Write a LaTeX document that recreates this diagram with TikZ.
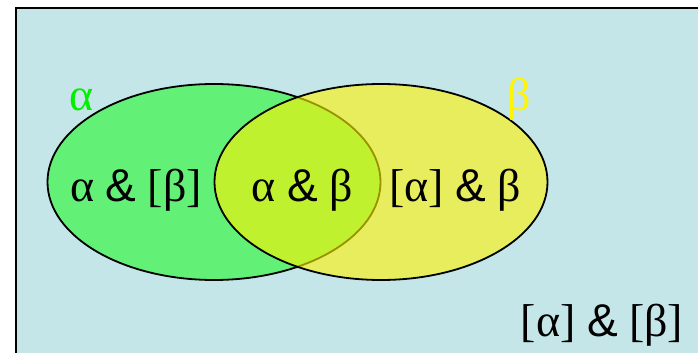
\documentclass[tikz,border=0pt]{standalone}
\usepackage{fontspec}
\setmainfont{Liberation Serif}
\newfontfamily\ampfont{Liberation Sans}
\usepackage{xcolor}
\usetikzlibrary{shapes.geometric}
\definecolor{universe}{RGB}{197,230,232}
\definecolor{setgreen}{RGB}{98,240,118}
\definecolor{labgreen}{RGB}{0,240,0}
\definecolor{labyellow}{RGB}{255,245,0}
\newcommand{\amp}{{\ampfont\&}}
\tikzset{
  setA/.style={draw=black,ellipse,fill=setgreen,line width=0.9pt,
               minimum width=166.5pt,minimum height=98pt,inner sep=0pt},
  setB/.style={setA,fill=yellow,fill opacity=0.6},
  region/.style={font=\fontsize{23}{27}\selectfont,anchor=base,inner sep=0pt},
  setlbl/.style={region},
}

\begin{document}
\begin{tikzpicture}[x=0.5pt,y=-0.5pt]
  \useasboundingbox (0,0) rectangle (698,353);
  \begin{scope}
    \clip (0,0) rectangle (698,353);
    \draw[fill=universe,line width=1pt] (15.5,8) rectangle (720,380);
  \end{scope}

  \node[setA] (alpha) at (214,182) {};
  \node[setB] (beta)  at (381,182) {};

  \node[setlbl,text=labgreen]  (alab) at (82,111)  {α};
  \node[setlbl,text=labyellow] (blab) at (519,111) {β};

  \node[region] (onlyA) at (136,202) {α \amp{} [β]};
  \node[region] (both)  at (302,202) {α \amp{} β};
  \node[region] (onlyB) at (455,202) {[α] \amp{} β};
  \node[region] (none)  at (602,337) {[α] \amp{} [β]};
\end{tikzpicture}
\end{document}
